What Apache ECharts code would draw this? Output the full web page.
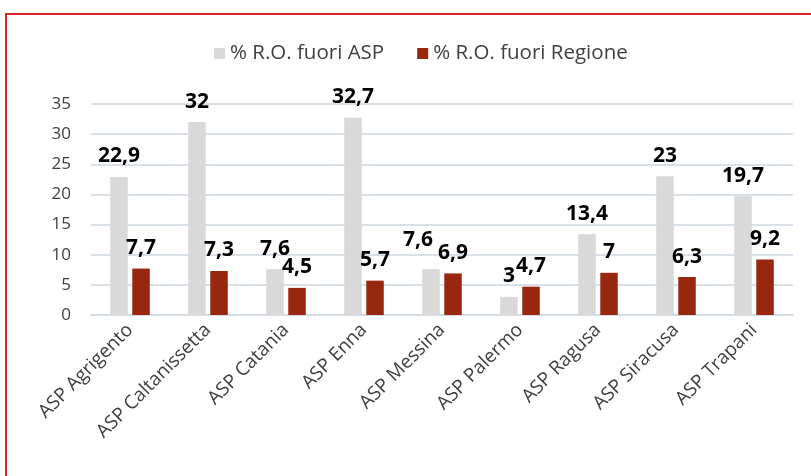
<!DOCTYPE html>
<html>
<head>
<meta charset="utf-8">
<script src="https://cdn.jsdelivr.net/npm/echarts@6/dist/echarts.min.js"></script>
<style>
  html, body { margin: 0; padding: 0; background: #fff; overflow: hidden; }
  #frame {
    position: absolute; left: 5px; top: 13px;
    width: 900px; height: 600px;
    border: 2px solid #d8262b;
  }
  #main { position: absolute; left: 0; top: 0; width: 811px; height: 476px; }
</style>
</head>
<body>
<div id="frame"></div>
<div id="main"></div>
<script>
// dati
var categories = ["ASP Agrigento", "ASP Caltanissetta", "ASP Catania", "ASP Enna", "ASP Messina",
                  "ASP Palermo", "ASP Ragusa", "ASP Siracusa", "ASP Trapani"]
var fuoriAsp = [22.9, 32, 7.6, 32.7, 7.6, 3, 13.4, 23, 19.7]
var fuoriRegione = [7.7, 7.3, 4.5, 5.7, 6.9, 4.7, 7, 6.3, 9.2]
var seriesNames = ["% R.O. fuori ASP", "% R.O. fuori Regione"]

var FONT = "Open Sans"

function fmt(p) {
  return String(p.value).replace(".", ",")   // virgola decimale
}

var labelStyle = {
  show: true,
  position: "top",
  distance: 10,
  formatter: fmt,
  color: "#000",
  fontFamily: FONT,
  fontWeight: "bold",
  fontSize: 21
}

// etichetta spostata come nell'originale (Messina, serie ASP)
var aspData = fuoriAsp.map(function (v, i) {
  if (i === 4) return { value: v, label: { offset: [-13, -9] } }
  return v
})

var chart = echarts.init(document.getElementById("main"))
chart.setOption({
  animation: false,
  textStyle: { fontFamily: FONT },
  legend: {
    left: 209,
    top: 38,
    itemWidth: 11,
    itemHeight: 11,
    itemGap: 33,
    icon: "rect",
    textStyle: { fontFamily: FONT, fontSize: 20.5, color: "#404040" },
    data: seriesNames
  },
  grid: { left: 91, right: 18, top: 104, bottom: 161 },
  xAxis: {
    type: "category",
    data: categories,
    axisLine: { lineStyle: { color: "#d6dce4", width: 2 } },
    axisTick: { show: false },
    axisLabel: {
      rotate: 45,
      margin: 12,
      interval: 0,
      fontFamily: FONT,
      fontSize: 19,
      color: "#404040"
    }
  },
  yAxis: {
    type: "value",
    min: 0,
    max: 35,
    interval: 5,
    axisLine: { show: false },
    axisTick: { show: false },
    splitLine: { lineStyle: { color: "#d9e0e8", width: 2 } },
    axisLabel: {
      margin: 20,
      fontFamily: FONT,
      fontSize: 17,
      color: "#404040"
    }
  },
  series: [
    {
      name: seriesNames[0],
      type: "bar",
      barWidth: 17.5,
      barGap: "26%",
      itemStyle: { color: "#d9d9d9" },
      label: labelStyle,
      data: aspData
    },
    {
      name: seriesNames[1],
      type: "bar",
      barWidth: 17.5,
      itemStyle: { color: "#982710" },
      label: labelStyle,
      data: fuoriRegione
    }
  ]
})

window.onresize = function () {
  chart.resize()
}
</script>
</body>
</html>
